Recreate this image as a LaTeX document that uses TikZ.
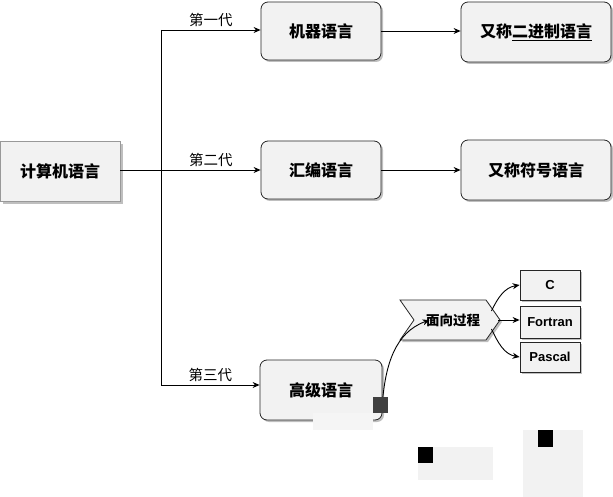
\documentclass[tikz,border=0pt]{standalone}
\usepackage{fontspec}
\setmainfont{Liberation Sans}
\newfontfamily\cjk{Noto Sans CJK SC}
\usepackage{tikz}
\usetikzlibrary{
  arrows.meta,     % arrow tips
  shadows,         % drop shadows under the boxes
  shapes.symbols   % the signal (chevron) shape
}
\definecolor{boxgray}{RGB}{242,242,242}

\tikzset{
  arr/.style={-{Stealth[length=7pt,width=6pt]}},
  rootbox/.style={draw=black!40, fill=boxgray, minimum width=120pt, minimum height=60pt,
    font=\cjk\bfseries\fontsize{16}{18}\selectfont,
    drop shadow={shadow xshift=3pt, shadow yshift=-3pt, fill=black!50}},
  langbox/.style={draw=black!85, thick, rounded corners=7pt, fill=boxgray,
    minimum width=120pt, minimum height=58pt,
    font=\cjk\bfseries\fontsize{16}{18}\selectfont,
    drop shadow={shadow xshift=2pt, shadow yshift=-2pt, fill=black!50}},
  notebox/.style={langbox, minimum width=150pt, minimum height=60pt},
  namebox/.style={draw=black!85, thick, fill=boxgray, minimum width=60pt, minimum height=30pt,
    font=\bfseries\fontsize{13}{15}\selectfont,
    drop shadow={shadow xshift=2pt, shadow yshift=-2pt, fill=black!50}},
  genlabel/.style={font=\cjk\fontsize{14.5}{16}\selectfont, above=0pt}
}

\begin{document}
\begin{tikzpicture}[x=1pt, y=-1pt, line width=0.9pt]
  \useasboundingbox (0,0) rectangle (613,497);

  % root
  \node[rootbox] (root) at (60,171) {计算机语言};

  % three generations
  \node[langbox] (jiqi)  at (321,31)  {机器语言};
  \node[notebox] (erjin) at (536,32)  {又称\underline{二进制语言}};
  \node[langbox] (huibian) at (321,170) {汇编语言};
  \node[notebox] (fuhao)   at (536,170) {又称符号语言};
  \node[langbox, minimum width=122pt, minimum height=60pt] (gaoji) at (321,390) {高级语言};

  % trunk
  \coordinate (trunk) at (161,170);
  \coordinate (top) at (161,30);
  \coordinate (bot) at (161,385);
  \draw (root.east |- trunk) -- (trunk);
  \draw (top) -- (bot);
  \draw[arr] (top) -- (jiqi.west |- top) node[genlabel, midway] {第一代};
  \draw[arr] (trunk) -- (huibian.west |- trunk) node[genlabel, midway] {第二代};
  \draw[arr] (bot) -- (gaoji.west |- bot) node[genlabel, midway] {第三代};
  \draw[arr] (jiqi.east) -- (erjin.west |- jiqi.east);
  \draw[arr] (huibian) -- (fuhao);

  % procedural branch
  \node[signal, signal from=west, signal to=east, signal pointer angle=110,
        draw=black!85, thick, fill=boxgray, minimum width=100pt, minimum height=40pt,
        inner sep=1pt, font=\cjk\bfseries\fontsize{13.5}{15}\selectfont,
        drop shadow={shadow xshift=2pt, shadow yshift=-2pt, fill=black!50}]
        (proc) at (450,320) {\hspace{6pt}面向过程};
  \draw[arr] ([yshift=-12pt]gaoji.east) to[out=85, in=200] ([xshift=16pt]proc.west);

  \node[namebox] (c)       at (550,285) {C};
  \node[namebox, minimum height=32pt] (fortran) at (550,322) {Fortran};
  \node[namebox] (pascal)  at (550,357) {Pascal};
  \draw[arr] ([shift={(-9pt,9pt)}]proc.east) to[out=65, in=190] (c.west);
  \draw[arr] ([xshift=-2pt]proc.east) -- (fortran.west |- proc.east);
  \draw[arr] ([shift={(-9pt,-9pt)}]proc.east) to[out=-65, in=170] (pascal.west);

  % blotches
  \fill[white!96!black] (313,413) rectangle (373,430);
  \fill[black!75] (373,397) rectangle (388,413);
  \fill[black!5] (418,447) rectangle (493,480);
  \fill[black] (418,447) rectangle (433,463);
  \fill[black!5] (523,430) rectangle (583,497);
  \fill[black] (538,430) rectangle (553,447);
\end{tikzpicture}
\end{document}
